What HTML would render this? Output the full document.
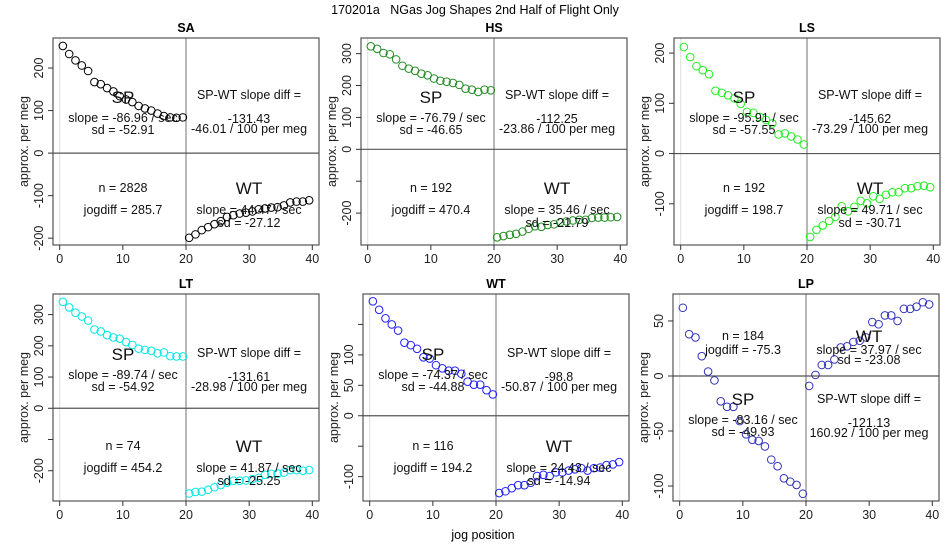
<!DOCTYPE html>
<html><head><meta charset="utf-8"><style>
body{margin:0;background:#fff}
svg{display:block;font-family:"Liberation Sans",sans-serif}
</style></head><body>
<svg id="c" width="950" height="550" viewBox="0 0 950 550">
<text x="475" y="14" text-anchor="middle" font-size="12.5" style="white-space:pre">170201a&#160;&#160;&#160;NGas Jog Shapes 2nd Half of Flight Only</text>
<text x="483" y="539" text-anchor="middle" font-size="12.5">jog position</text>
</svg>
<script>
const panelNames=["SA","HS","LS","LT","WT","LP"];
const spSA=[252,233,218,206,193,167,162,153,145,134,126,120,111,105,100,93,87,84,83,84];
const wtSA=[-199,-191,-181,-174,-167,-160,-150,-146,-142,-140,-137,-132,-130,-128,-127,-123,-116,-114,-114,-111];
const spHS=[323,315,302,298,282,262,253,246,237,232,222,215,212,208,202,190,187,180,187,185];
const wtHS=[-276,-272,-268,-265,-258,-249,-241,-243,-237,-235,-229,-226,-223,-221,-221,-215,-214,-214,-213,-212];
const spLS=[212,192,174,166,158,125,121,116,110,99,83,81,73,67,60,38,40,34,28,18];
const wtLS=[-166,-152,-143,-134,-126,-105,-115,-106,-94,-99,-85,-90,-82,-77,-77,-69,-69,-65,-64,-67];
const spLT=[341,323,306,294,281,252,246,234,227,223,212,203,191,187,184,176,179,167,166,166];
const wtLT=[-273,-268,-267,-261,-253,-246,-238,-232,-232,-231,-227,-223,-213,-210,-209,-206,-198,-198,-200,-198];
const spWT=[188,174,160,150,140,120,116,110,96,94,83,78,74,74,69,56,51,51,42,35];
const wtWT=[-127,-124,-119,-114,-114,-110,-99,-97,-99,-93,-93,-90,-88,-86,-90,-86,-85,-81,-80,-76];
const spLP=[62,38,35,18,4,-4,-23,-28,-28,-41,-53,-58,-59,-64,-76,-82,-93,-96,-99,-107];
const wtLP=[-9,1,10,10,15,26,27,31,32,35,49,47,55,55,50,61,61,63,67,65];
const spX=[0.5,1.5,2.5,3.5,4.5,5.5,6.5,7.5,8.5,9.5,10.5,11.5,12.5,13.5,14.5,15.5,16.5,17.5,18.5,19.5];
const wtX=[20.5,21.5,22.5,23.5,24.5,25.5,26.5,27.5,28.5,29.5,30.5,31.5,32.5,33.5,34.5,35.5,36.5,37.5,38.5,39.5];
const xTicks=[0,10,20,30,40];
const yTicksSA=[-200,-100,0,100,200], yLabSA=["-200","-100","0","100","200"];
const yTicksHS=[-200,-100,0,100,200,300], yLabHS=["-200","","0","100","200","300"];
const yTicksLS=[-100,0,100,200], yLabLS=["-100","0","100","200"];
const yTicksLT=[-200,-100,0,100,200,300], yLabLT=["-200","","0","100","200","300"];
const yTicksWT=[-100,-50,0,50,100,150], yLabWT=["-100","","0","50","100",""];
const yTicksLP=[-100,-50,0,50], yLabLP=["-100","-50","0","50"];
const statsSA=["-86.96","-52.91","-131.43","-46.01","2828","285.7","44.47","-27.12"];
const statsHS=["-76.79","-46.65","-112.25","-23.86","192","470.4","35.46","-21.79"];
const statsLS=["-95.91","-57.55","-145.62","-73.29","192","198.7","49.71","-30.71"];
const statsLT=["-89.74","-54.92","-131.61","-28.98","74","454.2","41.87","-25.25"];
const statsWT=["-74.37","-44.88","-98.8","-50.87","116","194.2","24.43","-14.94"];
const statsLP=["-83.16","-49.93","-121.13","160.92","184","-75.3","37.97","-23.08"];

const NS="http://www.w3.org/2000/svg";
const svg=document.getElementById('c');
function mk(tag,attrs,parent){const e=document.createElementNS(NS,tag);for(const k in attrs)e.setAttribute(k,attrs[k]);(parent||svg).appendChild(e);return e;}
const layout=[
 {l:53,t:38,b:245,ymax:270.6,ymin:-216,sp:spSA,wt:wtSA,yt:yTicksSA,yl:yLabSA,st:statsSA,col:"#000",row:0},
 {l:361,t:38,b:245,ymax:349,ymin:-300,sp:spHS,wt:wtHS,yt:yTicksHS,yl:yLabHS,st:statsHS,col:"#228b22",row:0},
 {l:674,t:38,b:245,ymax:230,ymin:-182,sp:spLS,wt:wtLS,yt:yTicksLS,yl:yLabLS,st:statsLS,col:"#22ee22",row:0},
 {l:53,t:294,b:501,ymax:366,ymin:-297,sp:spLT,wt:wtLT,yt:yTicksLT,yl:yLabLT,st:statsLT,col:"#00e8e8",row:1},
 {l:363,t:294,b:501,ymax:200,ymin:-140,sp:spWT,wt:wtWT,yt:yTicksWT,yl:yLabWT,st:statsWT,col:"#2020ff",row:1},
 {l:673,t:294,b:501,ymax:74.5,ymin:-113.6,sp:spLP,wt:wtLP,yt:yTicksLP,yl:yLabLP,st:statsLP,col:"#3333bb",row:1,flip:true}
];
const W=266;
layout.forEach((p,i)=>{
  const g=mk('g',{});
  
  
  const X=v=>p.l+(v+1.06)*W/42.12;
  const Y=v=>p.t+(p.ymax-v)*(p.b-p.t)/(p.ymax-p.ymin);
  const ttl=mk('text',{x:p.l+W/2,y:p.t-6,'text-anchor':'middle','font-size':12.5,'font-weight':'bold'},g);
  ttl.textContent=panelNames[i];
  
  
  mk('line',{x1:X(0),x2:X(0),y1:p.t,y2:p.b,stroke:'#ddd','stroke-width':1},g);
  mk('line',{x1:X(20),x2:X(20),y1:p.t,y2:p.b,stroke:'#888','stroke-width':1.2},g);
  mk('line',{x1:p.l,x2:p.l+W,y1:Y(0),y2:Y(0),stroke:'#555','stroke-width':1.2},g);
  const box=mk('rect',{x:p.l,y:p.t,width:W,height:p.b-p.t,fill:'none',stroke:'#555','stroke-width':1.2},g);
  
  
  xTicks.forEach(v=>{
    mk('line',{x1:X(v),x2:X(v),y1:p.b,y2:p.b+5,stroke:'#333'},g);
    const t=mk('text',{x:X(v),y:p.b+18,'text-anchor':'middle','font-size':12.5,fill:'#222'},g);
    t.textContent=v;
    
    
  });
  p.yt.forEach((v,k)=>{
    mk('line',{x1:p.l-5,x2:p.l,y1:Y(v),y2:Y(v),stroke:'#333'},g);
    if(p.yl[k]){
      const t=mk('text',{x:0,y:0,'text-anchor':'middle','font-size':12.5,fill:'#222',transform:`translate(${p.l-10},${Y(v)}) rotate(-90)`},g);
      t.textContent=p.yl[k];
      
      
    }
  });
  const yt=mk('text',{x:0,y:0,'text-anchor':'middle','font-size':12.5,fill:'#222',transform:`translate(${p.l-25},${(p.t+p.b)/2}) rotate(-90)`},g);
  yt.textContent='approx. per meg';
  
  
  spX.forEach((x,k)=>{
    const c=mk('circle',{cx:X(x),cy:Y(p.sp[k]),r:3.8,fill:'none',stroke:p.col,'stroke-width':1},g);
    
    
  });
  wtX.forEach((x,k)=>{
    const c=mk('circle',{cx:X(x),cy:Y(p.wt[k]),r:3.8,fill:'none',stroke:p.col,'stroke-width':1},g);
    
    
  });
  const s=p.st;
  const cL=p.l+70, cR=p.l+196;
  let spY,wtY,nY,dY;
  if(p.row===0){spY=p.t+59;dY=p.t+57;nY=p.t+150;wtY=p.t+150;}
  else if(!p.flip){spY=p.t+60;dY=p.t+59;nY=p.t+152;wtY=p.t+152;}
  else{spY=p.t+105;dY=p.t+105;nY=p.t+42;wtY=p.t+42;}
  const T=(x,y,str,fs,name)=>{const t=mk('text',{x:x,y:y,'text-anchor':'middle','font-size':fs,fill:'#111'},g);t.textContent=str;};
  T(cL,spY+6,'SP',17,'sp-label');
  T(cL,spY+25,'slope = '+s[0]+' / sec',12.5,'sp-slope');
  T(cL,spY+37,'sd = '+s[1],12.5,'sp-sd');
  T(cR,dY+4,'SP-WT slope diff =',12.5,'slope-diff-label');
  T(cR,dY+28,s[2],12.5,'slope-diff-value');
  T(cR,dY+38,s[3]+' / 100 per meg',12.5,'slope-diff-per-meg');
  T(cL,nY+4,'n = '+s[4],12.5,'n-count');
  T(cL,nY+(p.flip?18:26),'jogdiff = '+s[5],12.5,'jogdiff');
  T(cR,wtY+6,'WT',17,'wt-label');
  T(cR,wtY+(p.flip?18:26),'slope = '+s[6]+' / sec',12.5,'wt-slope');
  T(cR,wtY+(p.flip?28:39),'sd = '+s[7],12.5,'wt-sd');
});
</script>
</body></html>
